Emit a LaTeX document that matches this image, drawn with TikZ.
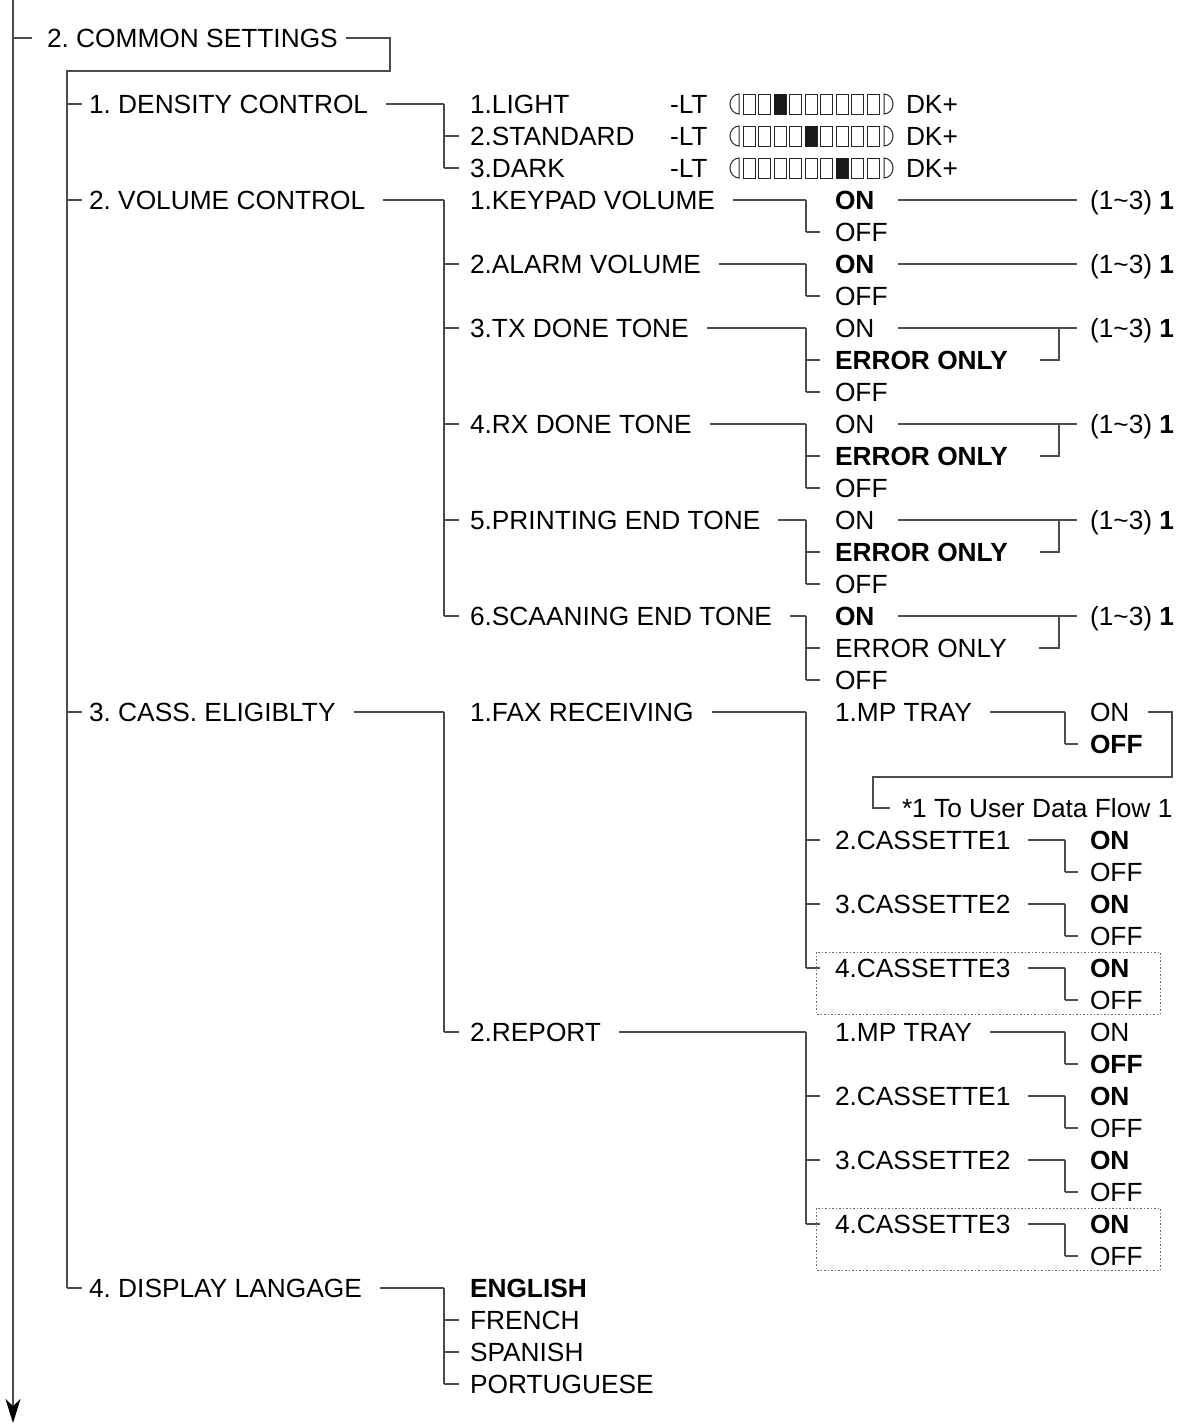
\documentclass[tikz,border=0pt]{standalone}
\usepackage{fontspec}
\setmainfont{Liberation Sans}
\usetikzlibrary{arrows.meta}
\frenchspacing
\newcommand\mytick[3]{\draw[ln] (#1.west -| #2) -- ([xshift=-#3pt]#1.west);}
\newcommand\myparent[2]{\draw[ln] ([xshift=18pt]#1.east) -- (#1.east -| #2);}
\newcommand\myspine[3]{\draw[ln] (#1.west -| #3) -- (#2.west -| #3);}
\begin{document}
\begin{tikzpicture}[x=1pt,y=-1pt,
  t/.style={anchor=west,inner sep=0pt,outer sep=0pt,font=\fontsize{26.3}{30}\selectfont,text height=19pt,text depth=0pt},
  b/.style={t,font=\fontsize{26.3}{30}\selectfont\bfseries},
  ln/.style={draw=black!70,line width=1.4pt},
  bar/.style={draw=black!85,line width=1pt},
  dbox/.style={draw=black!60,line width=1pt,dash pattern=on 1.5pt off 2pt},
]
\useasboundingbox (0,0) rectangle (1178,1427);
% spine coordinates
\coordinate (xA) at (13,0);
\coordinate (xB) at (67,0);
\coordinate (xC) at (444,0);
\coordinate (xD) at (806,0);
\coordinate (xE) at (1065,0);
\coordinate (xF) at (1059,0);
% level 0/1
\node[t] (cs) at (47,38) {2. COMMON SETTINGS};
\node[t] (dens) at (89,104) {1. DENSITY CONTROL};
\node[t] (vol) at (89,200) {2. VOLUME CONTROL};
\node[t] (cass) at (89,712) {3. CASS. ELIGIBLTY};
\node[t] (disp) at (89,1288) {4. DISPLAY LANGAGE};
% density
\node[t] (light) at (470,104) {1.LIGHT};
\node[t] (std) at (470,136) {2.STANDARD};
\node[t] (dark) at (470,168) {3.DARK};
\foreach \n/\r in {1/104,2/136,3/168}{
  \node[t] (lt\n) at (670,\r) {-LT};
  \node[t] (dk\n) at (906,\r) {DK+};
}
\foreach \r/\f in {104/2,136/4,168/6}{
  \draw[bar] (739,\r+10) arc[start angle=90,end angle=270,x radius=9,y radius=10] -- cycle;
  \foreach \i in {0,...,8}{\draw[bar] ({743+15.5*\i},\r-10) rectangle ++(12,20);}
  \fill[black!90] ({743+15.5*\f},\r-10) rectangle ++(12,20);
  \draw[bar] (884,\r-10) arc[start angle=-90,end angle=90,x radius=9,y radius=10] -- cycle;
}
% volume
\node[t] (kp) at (470,200) {1.KEYPAD VOLUME};
\node[t] (al) at (470,264) {2.ALARM VOLUME};
\node[t] (tx) at (470,328) {3.TX DONE TONE};
\node[t] (rx) at (470,424) {4.RX DONE TONE};
\node[t] (pr) at (470,520) {5.PRINTING END TONE};
\node[t] (sc) at (470,616) {6.SCAANING END TONE};
\node[b] (kpA) at (835,200) {ON};
\node[t] (kpB) at (835,232) {OFF};
\node[b] (alA) at (835,264) {ON};
\node[t] (alB) at (835,296) {OFF};
\node[t] (txA) at (835,328) {ON};
\node[b] (txB) at (835,360) {ERROR ONLY};
\node[t] (txC) at (835,392) {OFF};
\node[t] (rxA) at (835,424) {ON};
\node[b] (rxB) at (835,456) {ERROR ONLY};
\node[t] (rxC) at (835,488) {OFF};
\node[t] (prA) at (835,520) {ON};
\node[b] (prB) at (835,552) {ERROR ONLY};
\node[t] (prC) at (835,584) {OFF};
\node[b] (scA) at (835,616) {ON};
\node[t] (scB) at (835,648) {ERROR ONLY};
\node[t] (scC) at (835,680) {OFF};
\foreach \n/\r in {kp/200,al/264,tx/328,rx/424,pr/520,sc/616}{
  \node[t] (\n L) at (1090,\r) {(1\textasciitilde3) \textbf{1}};
  \draw[ln] ([xshift=24pt]\n A.east) -- ([xshift=-13pt]\n L.west);
}
\foreach \n in {tx,rx,pr,sc}{
  \draw[ln] ([xshift=32pt]\n B.east) -- (\n B.west -| xF) -- (\n A.west -| xF);
}
% cassette eligibility
\node[t] (fax) at (470,712) {1.FAX RECEIVING};
\node[t] (rep) at (470,1032) {2.REPORT};
\node[t] (mpa) at (835,712) {1.MP TRAY};
\node[t] (caa) at (835,840) {2.CASSETTE1};
\node[t] (cba) at (835,904) {3.CASSETTE2};
\node[t] (cca) at (835,968) {4.CASSETTE3};
\node[t] (mpb) at (835,1032) {1.MP TRAY};
\node[t] (cab) at (835,1096) {2.CASSETTE1};
\node[t] (cbb) at (835,1160) {3.CASSETTE2};
\node[t] (ccb) at (835,1224) {4.CASSETTE3};
\node[t] (mpaA) at (1090,712) {ON};
\node[b] (mpaB) at (1090,744) {OFF};
\node[t] (mpbA) at (1090,1032) {ON};
\node[b] (mpbB) at (1090,1064) {OFF};
\foreach \n/\r in {caa/840,cba/904,cca/968,cab/1096,cbb/1160,ccb/1224}{
  \node[b] (\n A) at (1090,\r) {ON};
  \node[t] (\n B) at (1090,\r+32) {OFF};
}
\foreach \n in {mpa,caa,cba,cca,mpb,cab,cbb,ccb}{
  \myparent{\n}{xE}
  \myspine{\n A}{\n B}{xE}
  \mytick{\n B}{xE}{12}
}
\node[t] (note) at (902,808) {*1 To User Data Flow 1};
\coordinate (b1) at (1172,777);
\coordinate (b2) at (873,777);
\draw[ln] ([xshift=19pt]mpaA.east) -- (mpaA.east -| b1) -- (b1) -- (b2) -- (note.west -| b2) -- ([xshift=-12pt]note.west);
\draw[dbox] (816,952) rectangle (1160,1014);
\draw[dbox] (816,1208) rectangle (1160,1270);
% display language
\node[b] (eng) at (470,1288) {ENGLISH};
\node[t] (fr) at (470,1320) {FRENCH};
\node[t] (spn) at (470,1352) {SPANISH};
\node[t] (pt) at (470,1384) {PORTUGUESE};
% main line
\coordinate (top) at (13,0);
\coordinate (bot) at (13,1423);
\draw[ln,-{Stealth[length=24pt,width=15pt,inset=7pt,color=black,fill=black]}] (top) -- (bot);
\mytick{cs}{xA}{15}
\coordinate (brk) at (390,71);
\draw[ln] ([xshift=8pt]cs.east) -- (cs.east -| brk) -- (brk) -- (brk -| xB) -- (disp.west -| xB);
\foreach \n in {dens,vol,cass,disp}{\mytick{\n}{xB}{7}}
% level 2 connectors
\myparent{dens}{xC}
\myspine{light}{dark}{xC}
\foreach \n in {std,dark}{\mytick{\n}{xC}{11}}
\myparent{vol}{xC}
\myspine{kp}{sc}{xC}
\foreach \n in {al,tx,rx,pr,sc}{\mytick{\n}{xC}{11}}
\myparent{cass}{xC}
\myspine{fax}{rep}{xC}
\mytick{rep}{xC}{11}
\myparent{disp}{xC}
\myspine{eng}{pt}{xC}
\foreach \n in {fr,spn,pt}{\mytick{\n}{xC}{11}}
% level 3 connectors
\foreach \n in {kp,al}{
  \myparent{\n}{xD}
  \myspine{\n A}{\n B}{xD}
  \mytick{\n B}{xD}{15}
}
\foreach \n in {tx,rx,pr,sc}{
  \myparent{\n}{xD}
  \myspine{\n A}{\n C}{xD}
  \mytick{\n B}{xD}{15}
  \mytick{\n C}{xD}{15}
}
\myparent{fax}{xD}
\myspine{mpa}{cca}{xD}
\foreach \n in {caa,cba,cca}{\mytick{\n}{xD}{15}}
\myparent{rep}{xD}
\myspine{mpb}{ccb}{xD}
\foreach \n in {cab,cbb,ccb}{\mytick{\n}{xD}{15}}
\end{tikzpicture}
\end{document}
